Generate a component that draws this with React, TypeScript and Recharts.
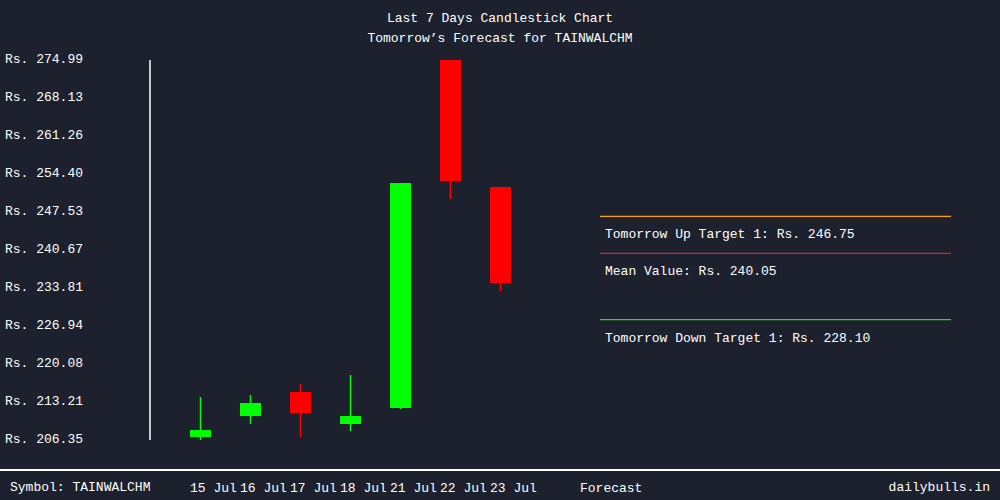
import React from 'react';
import { ComposedChart, Bar, XAxis, YAxis, ReferenceLine } from 'recharts';

const dates = ['15 Jul', '16 Jul', '17 Jul', '18 Jul', '21 Jul', '22 Jul', '23 Jul'];
const opens = [206.89, 210.68, 215.02, 209.24, 212.13, 274.99, 252.05];
const closes = [208.15, 213.03, 211.23, 210.68, 252.77, 253.13, 234.71];
const highs = [214.12, 214.48, 216.46, 218.09, 252.77, 274.99, 252.05];
const lows = [206.35, 209.24, 206.89, 207.97, 211.95, 249.88, 233.26];
const yTicks = [206.35, 213.21, 220.08, 226.94, 233.81, 240.67, 247.53, 254.40, 261.26, 268.13, 274.99];
const forecastLabel = 'Forecast';
const forecastTickPos = 7.8;
const upTarget = 246.75;
const meanValue = 240.05;
const downTarget = 228.10;
const symbol = 'TAINWALCHM';

const data = dates.map((d, i) => ({
  i,
  date: d,
  open: opens[i],
  close: closes[i],
  high: highs[i],
  low: lows[i],
  range: [lows[i], highs[i]],
}));

const BG = '#1c212d';
const FONT = '"Liberation Mono", "DejaVu Sans Mono", monospace';
const GREEN = '#00ff00';
const RED = '#ff0000';

const Candle = (props: any) => {
  const { x, y, width, height, payload } = props;
  if (!payload) return null;
  const { open, close, high, low } = payload;
  const span = high - low;
  const ppu = span > 0 ? height / span : 0;
  const toY = (v: number) => y + (high - v) * ppu;
  const up = close >= open;
  const color = up ? GREEN : RED;
  const top = toY(Math.max(open, close));
  const bot = toY(Math.min(open, close));
  const cx = x + width / 2;
  return (
    <g>
      <line x1={cx} x2={cx} y1={y} y2={y + height} stroke={color} strokeWidth={1.5} />
      <rect x={x} y={top} width={width} height={Math.max(1, bot - top)} fill={color} />
    </g>
  );
};

const YTick = (props: any) => {
  const { y, payload } = props;
  return (
    <text x={5} y={y + 3} fill="#ffffff" fontFamily={FONT} fontSize={13} textAnchor="start">
      {'Rs. ' + Number(payload.value).toFixed(2)}
    </text>
  );
};

const XTick = (props: any) => {
  const { x, y, payload } = props;
  const v = payload.value;
  const label = v === forecastTickPos ? forecastLabel : dates[v];
  return (
    <text x={x - 10} y={y + 52} fill="#ffffff" fontFamily={FONT} fontSize={13} textAnchor="start">
      {label}
    </text>
  );
};

const makeLabel = (text: string) => (p: any) => {
  const vb = p.viewBox || {};
  return (
    <text x={(vb.x || 0) + 5} y={(vb.y || 0) + 22} fill="#ffffff" fontFamily={FONT} fontSize={13}>
      {text}
    </text>
  );
};

export default function App() {
  return (
    <div style={{ position: 'absolute', left: 0, top: 0, width: 1000, height: 500, background: BG, overflow: 'hidden' }}>
      <div style={{ position: 'absolute', top: 9, left: 0, width: 1000, textAlign: 'center', color: '#fff', fontFamily: FONT, fontSize: 13, lineHeight: '20px' }}>
        <div>Last 7 Days Candlestick Chart</div>
        <div>Tomorrow’s Forecast for {symbol}</div>
      </div>
      <ComposedChart width={1000} height={500} data={data} margin={{ top: 60, right: 50, bottom: 0, left: 5 }}>
        <XAxis
          dataKey="i"
          type="number"
          domain={[-1, 15]}
          ticks={[0, 1, 2, 3, 4, 5, 6, forecastTickPos]}
          height={60}
          axisLine={false}
          tickLine={false}
          tickSize={0}
          tickMargin={0}
          tick={<XTick />}
          interval={0}
        />
        <YAxis
          type="number"
          domain={[206.35, 274.99]}
          ticks={yTicks}
          width={145}
          axisLine={{ stroke: '#ffffff', strokeWidth: 1.5 }}
          tickLine={false}
          tick={<YTick />}
          interval={0}
        />
        <Bar dataKey="range" barSize={21} shape={<Candle />} isAnimationActive={false} />
        <ReferenceLine
          segment={[{ x: 8, y: upTarget }, { x: 15.02, y: upTarget }]}
          stroke="#ffa500"
          strokeWidth={1.3}
          ifOverflow="visible"
          label={makeLabel('Tomorrow Up Target 1: Rs. ' + upTarget.toFixed(2))}
        />
        <ReferenceLine
          segment={[{ x: 8, y: meanValue }, { x: 15.02, y: meanValue }]}
          stroke="#dd2222"
          strokeWidth={1.3}
          ifOverflow="visible"
          label={makeLabel('Mean Value: Rs. ' + meanValue.toFixed(2))}
        />
        <ReferenceLine
          segment={[{ x: 8, y: downTarget }, { x: 15.02, y: downTarget }]}
          stroke="#22dd22"
          strokeWidth={1.3}
          ifOverflow="visible"
          label={makeLabel('Tomorrow Down Target 1: Rs. ' + downTarget.toFixed(2))}
        />
      </ComposedChart>
      <div style={{ position: 'absolute', left: 0, top: 469, width: 1000, height: 2, background: '#ffffff' }} />
      <div style={{ position: 'absolute', left: 10, top: 479, color: '#fff', fontFamily: FONT, fontSize: 13, lineHeight: '18px' }}>
        Symbol: {symbol}
      </div>
      <div style={{ position: 'absolute', right: 10, top: 479, color: '#fff', fontFamily: FONT, fontSize: 13, lineHeight: '18px' }}>
        dailybulls.in
      </div>
    </div>
  );
}
